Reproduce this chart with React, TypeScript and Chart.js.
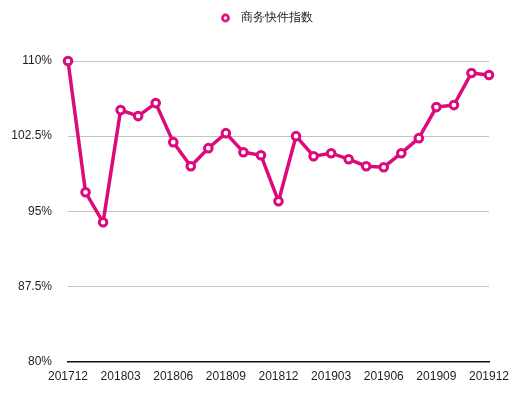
import React, { useEffect, useRef } from "react";
import { Chart, registerables } from "chart.js";

Chart.register(...registerables);

const months = [
  "201712", "201801", "201802", "201803", "201804", "201805", "201806",
  "201807", "201808", "201809", "201810", "201811", "201812", "201901",
  "201902", "201903", "201904", "201905", "201906", "201907", "201908",
  "201909", "201910", "201911", "201912",
];

const indexValues = [
  110.0, 96.9, 93.9, 105.1, 104.5, 105.8, 101.9, 99.5, 101.3, 102.8, 100.9,
  100.6, 96.0, 102.5, 100.5, 100.8, 100.2, 99.5, 99.4, 100.8, 102.3, 105.4,
  105.6, 108.8, 108.6,
];

const seriesName = "商务快件指数";
const yMin = 80;
const yMax = 110;
const yStep = 7.5;
const labelEvery = 3;

const PINK = "#dc0a7b";
const TEXT = "#1e1e1e";
const FONT = "Helvetica, Arial, 'Liberation Sans', sans-serif";

function makeMarker(): HTMLCanvasElement {
  const c = document.createElement("canvas");
  c.width = 11;
  c.height = 11;
  const ctx = c.getContext("2d")!;
  ctx.beginPath();
  ctx.arc(5.5, 5.5, 3.1, 0, Math.PI * 2);
  ctx.fillStyle = "#ffffff";
  ctx.fill();
  ctx.lineWidth = 2.6;
  ctx.strokeStyle = PINK;
  ctx.stroke();
  return c;
}

const legendGap = {
  id: "legendGap",
  beforeInit(chart: any) {
    const legend = chart.legend;
    if (!legend) return;
    const orig = legend.fit;
    legend.fit = function () {
      orig.call(this);
      this.height += 27;
    };
  },
};

export default function App() {
  const ref = useRef<HTMLCanvasElement | null>(null);

  useEffect(() => {
    if (!ref.current) return;
    const marker = makeMarker();
    const chart = new Chart(ref.current, {
      type: "line",
      data: {
        labels: months,
        datasets: [
          {
            label: seriesName,
            data: indexValues,
            borderColor: PINK,
            backgroundColor: PINK,
            borderWidth: 3.5,
            pointRadius: 3.8,
            pointBorderWidth: 3,
            pointBackgroundColor: "#ffffff",
            pointBorderColor: PINK,
            tension: 0,
            clip: false as any,
            yAxisID: "y",
          },
        ],
      },
      plugins: [legendGap],
      options: {
        animation: false,
        responsive: true,
        maintainAspectRatio: false,
        layout: { padding: { left: 0, right: 0, top: 0, bottom: 0 } },
        plugins: {
          tooltip: { enabled: false },
          legend: {
            display: true,
            position: "top",
            labels: {
              usePointStyle: true,
              pointStyle: marker as any,
              pointStyleWidth: 18,
              boxHeight: 12,
              padding: 4,
              color: TEXT,
              font: { family: FONT, size: 12 },
            },
          },
        },
        scales: {
          x: {
            offset: false,
            grid: { display: false, drawTicks: false },
            border: { display: true, color: "#111", width: 1.5 },
            ticks: {
              autoSkip: false,
              maxRotation: 0,
              padding: 8,
              color: TEXT,
              font: { family: FONT, size: 12 },
              callback: (_v: any, i: number) =>
                i % labelEvery === 0 ? months[i] : "",
            },
          },
          y: {
            min: yMin,
            max: yMax,
            grid: { color: "#c4c4c4", drawTicks: false, lineWidth: 1 },
            border: { display: false },
            afterFit: (s: any) => {
              s.width = 60;
            },
            ticks: {
              stepSize: yStep,
              padding: 16,
              color: TEXT,
              font: { family: FONT, size: 12 },
              callback: (v: any) => `${v}%`,
            },
          },
          yRight: {
            type: "linear",
            position: "right",
            display: true,
            grid: { display: false, drawTicks: false },
            border: { display: false },
            ticks: { display: false },
            afterFit: (s: any) => {
              s.width = 32;
            },
          },
        },
      },
    });
    return () => chart.destroy();
  }, []);

  return (
    <div style={{ width: "100%", height: 384, position: "relative" }}>
      <canvas ref={ref} />
    </div>
  );
}
